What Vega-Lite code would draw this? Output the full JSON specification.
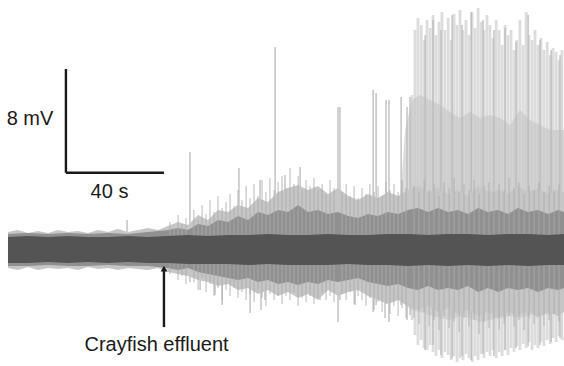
{
  "$schema": "https://vega.github.io/schema/vega-lite/v6.json",
  "width": 564,
  "height": 366,
  "autosize": {"type": "fit", "contains": "padding"},
  "padding": 0,
  "background": "white",
  "config": {"view": {"stroke": null}},
  "datasets": {
    "band": [
      {"t": 0, "hi": 1.02, "lo": -1.02}, {"t": 8.1, "hi": 1.10, "lo": -1.02}, {"t": 16.2, "hi": 1.02, "lo": -0.94},
      {"t": 24.2, "hi": 1.10, "lo": -1.02}, {"t": 32.3, "hi": 1.02, "lo": -0.94}, {"t": 40.4, "hi": 1.02, "lo": -1.02},
      {"t": 48.5, "hi": 1.10, "lo": -0.94}, {"t": 56.6, "hi": 1.02, "lo": -1.02}, {"t": 64.6, "hi": 1.10, "lo": -1.02},
      {"t": 72.7, "hi": 1.18, "lo": -1.10}, {"t": 80.8, "hi": 1.10, "lo": -1.10}, {"t": 88.9, "hi": 1.18, "lo": -1.10},
      {"t": 97.0, "hi": 1.18, "lo": -1.18}, {"t": 105.0, "hi": 1.25, "lo": -1.10}, {"t": 113.1, "hi": 1.18, "lo": -1.18},
      {"t": 121.2, "hi": 1.18, "lo": -1.18}, {"t": 129.3, "hi": 1.25, "lo": -1.18}, {"t": 137.4, "hi": 1.18, "lo": -1.10},
      {"t": 145.4, "hi": 1.18, "lo": -1.18}, {"t": 153.5, "hi": 1.25, "lo": -1.18}, {"t": 161.6, "hi": 1.25, "lo": -1.25},
      {"t": 169.7, "hi": 1.18, "lo": -1.18}, {"t": 177.8, "hi": 1.25, "lo": -1.25}, {"t": 185.8, "hi": 1.25, "lo": -1.18},
      {"t": 193.9, "hi": 1.18, "lo": -1.25}, {"t": 202.0, "hi": 1.25, "lo": -1.18}, {"t": 210.1, "hi": 1.25, "lo": -1.25},
      {"t": 218.2, "hi": 1.18, "lo": -1.18}, {"t": 224.6, "hi": 1.25, "lo": -1.18}
    ],
    "fuzzOuter": [
      {"t": 0, "hi": 1.41, "lo": -1.41}, {"t": 4.0, "hi": 1.57, "lo": -1.57}, {"t": 8.1, "hi": 1.33, "lo": -1.33},
      {"t": 12.1, "hi": 1.49, "lo": -1.57}, {"t": 16.2, "hi": 1.33, "lo": -1.41}, {"t": 20.2, "hi": 1.57, "lo": -1.49},
      {"t": 24.2, "hi": 1.41, "lo": -1.41}, {"t": 28.3, "hi": 1.49, "lo": -1.57}, {"t": 32.3, "hi": 1.33, "lo": -1.33},
      {"t": 36.4, "hi": 1.57, "lo": -1.49}, {"t": 40.4, "hi": 1.41, "lo": -1.41}, {"t": 44.4, "hi": 1.65, "lo": -1.57},
      {"t": 48.5, "hi": 1.41, "lo": -1.41}, {"t": 52.5, "hi": 1.57, "lo": -1.49}, {"t": 56.6, "hi": 1.72, "lo": -1.57},
      {"t": 60.6, "hi": 1.57, "lo": -1.41}, {"t": 64.6, "hi": 1.88, "lo": -1.72}, {"t": 68.7, "hi": 2.20, "lo": -1.88},
      {"t": 72.7, "hi": 1.96, "lo": -2.04}, {"t": 76.8, "hi": 2.74, "lo": -2.35}, {"t": 80.8, "hi": 2.35, "lo": -2.51},
      {"t": 84.8, "hi": 3.14, "lo": -2.82}, {"t": 88.9, "hi": 2.98, "lo": -2.67}, {"t": 92.9, "hi": 3.53, "lo": -3.14},
      {"t": 97.0, "hi": 3.29, "lo": -2.98}, {"t": 101.0, "hi": 4.08, "lo": -3.45}, {"t": 105.0, "hi": 3.76, "lo": -3.14},
      {"t": 109.1, "hi": 4.55, "lo": -3.61}, {"t": 113.1, "hi": 4.86, "lo": -3.29}, {"t": 117.2, "hi": 5.10, "lo": -3.76},
      {"t": 121.2, "hi": 4.70, "lo": -3.45}, {"t": 125.2, "hi": 5.02, "lo": -3.92}, {"t": 129.3, "hi": 4.39, "lo": -3.14},
      {"t": 133.3, "hi": 4.86, "lo": -3.61}, {"t": 137.4, "hi": 4.23, "lo": -3.29}, {"t": 141.4, "hi": 3.92, "lo": -3.14},
      {"t": 145.4, "hi": 4.39, "lo": -3.61}, {"t": 149.5, "hi": 4.08, "lo": -3.92}, {"t": 153.5, "hi": 4.55, "lo": -4.23},
      {"t": 157.6, "hi": 4.23, "lo": -3.92}, {"t": 161.6, "hi": 4.70, "lo": -4.39}, {"t": 165.6, "hi": 5.02, "lo": -4.70},
      {"t": 169.7, "hi": 4.55, "lo": -4.39}, {"t": 173.7, "hi": 4.86, "lo": -4.86}, {"t": 177.8, "hi": 4.39, "lo": -4.55},
      {"t": 181.8, "hi": 4.70, "lo": -5.02}, {"t": 185.8, "hi": 4.23, "lo": -4.70}, {"t": 189.9, "hi": 5.02, "lo": -5.17},
      {"t": 193.9, "hi": 4.55, "lo": -4.86}, {"t": 198.0, "hi": 4.70, "lo": -5.33}, {"t": 202.0, "hi": 4.39, "lo": -4.86},
      {"t": 206.0, "hi": 5.02, "lo": -5.17}, {"t": 210.1, "hi": 4.55, "lo": -4.70}, {"t": 214.1, "hi": 4.86, "lo": -5.33},
      {"t": 218.2, "hi": 4.39, "lo": -4.86}, {"t": 222.2, "hi": 4.70, "lo": -5.17}, {"t": 224.6, "hi": 4.55, "lo": -4.86}
    ],
    "fuzzInner": [
      {"t": 0, "hi": 1.25, "lo": -1.25}, {"t": 8.1, "hi": 1.33, "lo": -1.25}, {"t": 16.2, "hi": 1.25, "lo": -1.18},
      {"t": 24.2, "hi": 1.33, "lo": -1.25}, {"t": 32.3, "hi": 1.25, "lo": -1.25}, {"t": 40.4, "hi": 1.33, "lo": -1.18},
      {"t": 48.5, "hi": 1.25, "lo": -1.25}, {"t": 56.6, "hi": 1.41, "lo": -1.25}, {"t": 64.6, "hi": 1.57, "lo": -1.41},
      {"t": 68.7, "hi": 1.72, "lo": -1.57}, {"t": 72.7, "hi": 1.57, "lo": -1.41}, {"t": 76.8, "hi": 2.04, "lo": -1.72},
      {"t": 80.8, "hi": 1.88, "lo": -1.88}, {"t": 84.8, "hi": 2.35, "lo": -2.04}, {"t": 88.9, "hi": 2.20, "lo": -2.20},
      {"t": 92.9, "hi": 2.67, "lo": -2.35}, {"t": 97.0, "hi": 2.35, "lo": -2.20}, {"t": 101.0, "hi": 2.98, "lo": -2.51},
      {"t": 105.0, "hi": 2.74, "lo": -2.35}, {"t": 109.1, "hi": 3.14, "lo": -2.67}, {"t": 113.1, "hi": 2.98, "lo": -2.51},
      {"t": 117.2, "hi": 3.53, "lo": -2.74}, {"t": 121.2, "hi": 2.98, "lo": -2.51}, {"t": 125.2, "hi": 3.14, "lo": -2.67},
      {"t": 129.3, "hi": 2.82, "lo": -2.35}, {"t": 133.3, "hi": 2.98, "lo": -2.51}, {"t": 137.4, "hi": 2.67, "lo": -2.35},
      {"t": 141.4, "hi": 2.51, "lo": -2.20}, {"t": 145.4, "hi": 2.82, "lo": -2.51}, {"t": 149.5, "hi": 2.67, "lo": -2.67},
      {"t": 153.5, "hi": 2.98, "lo": -2.82}, {"t": 157.6, "hi": 2.82, "lo": -2.67}, {"t": 161.6, "hi": 3.14, "lo": -2.98},
      {"t": 165.6, "hi": 3.29, "lo": -3.14}, {"t": 169.7, "hi": 2.98, "lo": -2.82}, {"t": 173.7, "hi": 3.29, "lo": -3.14},
      {"t": 177.8, "hi": 2.98, "lo": -2.98}, {"t": 181.8, "hi": 3.14, "lo": -3.14}, {"t": 185.8, "hi": 2.82, "lo": -2.82},
      {"t": 189.9, "hi": 3.29, "lo": -3.29}, {"t": 193.9, "hi": 2.98, "lo": -2.98}, {"t": 198.0, "hi": 3.14, "lo": -3.29},
      {"t": 202.0, "hi": 2.82, "lo": -2.98}, {"t": 206.0, "hi": 3.29, "lo": -3.14}, {"t": 210.1, "hi": 2.98, "lo": -2.98},
      {"t": 214.1, "hi": 3.14, "lo": -3.29}, {"t": 218.2, "hi": 2.82, "lo": -2.98}, {"t": 222.2, "hi": 3.14, "lo": -3.14},
      {"t": 224.6, "hi": 2.98, "lo": -2.98}
    ],
    "midRight": [
      {"t": 158.4, "hi": 3.92, "lo": -3.92}, {"t": 160.4, "hi": 9.41, "lo": -4.31}, {"t": 163.2, "hi": 11.76, "lo": -4.70},
      {"t": 166.4, "hi": 12.15, "lo": -4.86}, {"t": 170.5, "hi": 11.76, "lo": -5.10}, {"t": 174.5, "hi": 11.37, "lo": -5.33},
      {"t": 178.6, "hi": 10.82, "lo": -5.49}, {"t": 182.6, "hi": 10.35, "lo": -5.17}, {"t": 186.6, "hi": 10.82, "lo": -5.33},
      {"t": 190.7, "hi": 10.35, "lo": -5.64}, {"t": 194.7, "hi": 10.58, "lo": -5.49}, {"t": 198.8, "hi": 10.35, "lo": -5.33},
      {"t": 202.8, "hi": 9.80, "lo": -5.17}, {"t": 206.8, "hi": 10.98, "lo": -5.33}, {"t": 210.9, "hi": 10.19, "lo": -5.10},
      {"t": 214.9, "hi": 9.80, "lo": -4.86}, {"t": 219.0, "hi": 9.41, "lo": -5.10}, {"t": 224.6, "hi": 9.41, "lo": -4.70}
    ],
    "dense": [
      {"t": 163.2, "hi": 12.15, "lo": -5.49}, {"t": 164.4, "hi": 17.25, "lo": -6.66}, {"t": 165.6, "hi": 18.19, "lo": -7.45},
      {"t": 166.9, "hi": 17.64, "lo": -7.06}, {"t": 168.1, "hi": 16.46, "lo": -7.68}, {"t": 169.3, "hi": 18.03, "lo": -7.84},
      {"t": 170.5, "hi": 17.40, "lo": -7.45}, {"t": 171.7, "hi": 18.42, "lo": -8.00}, {"t": 172.9, "hi": 16.86, "lo": -8.31},
      {"t": 174.1, "hi": 17.88, "lo": -7.84}, {"t": 175.3, "hi": 18.66, "lo": -8.47}, {"t": 176.5, "hi": 17.25, "lo": -8.00},
      {"t": 177.8, "hi": 18.19, "lo": -8.23}, {"t": 179.0, "hi": 16.46, "lo": -8.62}, {"t": 180.2, "hi": 18.50, "lo": -8.31},
      {"t": 181.4, "hi": 17.64, "lo": -8.78}, {"t": 182.6, "hi": 18.82, "lo": -8.47}, {"t": 183.8, "hi": 17.25, "lo": -8.62},
      {"t": 185.0, "hi": 18.03, "lo": -8.15}, {"t": 186.2, "hi": 16.86, "lo": -8.47}, {"t": 187.5, "hi": 18.66, "lo": -8.78},
      {"t": 188.7, "hi": 17.40, "lo": -8.31}, {"t": 189.9, "hi": 18.97, "lo": -8.62}, {"t": 191.1, "hi": 17.88, "lo": -8.15},
      {"t": 192.3, "hi": 17.25, "lo": -8.47}, {"t": 193.5, "hi": 18.42, "lo": -8.00}, {"t": 194.7, "hi": 17.64, "lo": -8.31},
      {"t": 195.9, "hi": 16.62, "lo": -7.84}, {"t": 197.2, "hi": 18.03, "lo": -8.47}, {"t": 198.4, "hi": 17.25, "lo": -8.00},
      {"t": 199.6, "hi": 16.07, "lo": -8.31}, {"t": 200.8, "hi": 17.64, "lo": -7.84}, {"t": 202.0, "hi": 16.86, "lo": -8.23},
      {"t": 203.2, "hi": 17.25, "lo": -7.68}, {"t": 204.4, "hi": 15.68, "lo": -8.00}, {"t": 205.6, "hi": 16.46, "lo": -7.53},
      {"t": 206.8, "hi": 18.03, "lo": -7.84}, {"t": 208.1, "hi": 16.07, "lo": -7.37}, {"t": 209.3, "hi": 18.66, "lo": -7.68},
      {"t": 210.5, "hi": 16.86, "lo": -7.21}, {"t": 211.7, "hi": 16.46, "lo": -7.84}, {"t": 212.9, "hi": 17.25, "lo": -7.45},
      {"t": 214.1, "hi": 16.07, "lo": -7.68}, {"t": 215.3, "hi": 16.62, "lo": -7.21}, {"t": 216.5, "hi": 15.68, "lo": -7.53},
      {"t": 217.8, "hi": 16.31, "lo": -7.06}, {"t": 219.0, "hi": 15.29, "lo": -7.37}, {"t": 220.2, "hi": 15.84, "lo": -6.90},
      {"t": 221.4, "hi": 15.52, "lo": -7.21}, {"t": 222.6, "hi": 14.90, "lo": -6.74}, {"t": 223.8, "hi": 15.68, "lo": -7.06}
    ],
    "spikes": [
      {"t": 48.1, "hi": 2.35, "lo": -0.94}, {"t": 73.5, "hi": 7.68, "lo": -2.51}, {"t": 77.6, "hi": 1.96, "lo": -3.14},
      {"t": 83.6, "hi": 2.35, "lo": -3.53}, {"t": 86.5, "hi": 1.10, "lo": -4.31}, {"t": 93.3, "hi": 6.43, "lo": -1.57},
      {"t": 97.8, "hi": 3.14, "lo": -4.94}, {"t": 101.8, "hi": 5.49, "lo": -2.20}, {"t": 102.2, "hi": 1.57, "lo": -4.70},
      {"t": 103.8, "hi": 2.74, "lo": -3.92}, {"t": 107.9, "hi": 15.92, "lo": -3.37}, {"t": 109.9, "hi": 3.92, "lo": -2.74},
      {"t": 111.9, "hi": 5.88, "lo": -2.20}, {"t": 118.0, "hi": 6.51, "lo": -0.78}, {"t": 126.0, "hi": 3.14, "lo": -3.92},
      {"t": 133.3, "hi": 11.21, "lo": -5.64}, {"t": 134.1, "hi": 11.21, "lo": -3.92}, {"t": 136.1, "hi": 3.53, "lo": -3.14},
      {"t": 140.2, "hi": 2.74, "lo": -4.31}, {"t": 147.5, "hi": 12.54, "lo": -4.86}, {"t": 148.7, "hi": 12.31, "lo": -4.31},
      {"t": 152.3, "hi": 3.92, "lo": -5.33}, {"t": 152.7, "hi": 11.76, "lo": -3.92}, {"t": 153.9, "hi": 11.76, "lo": -5.64},
      {"t": 158.8, "hi": 12.00, "lo": -4.31}, {"t": 161.2, "hi": 11.21, "lo": -5.49}, {"t": 162.4, "hi": 12.00, "lo": -5.10},
      {"t": 168.5, "hi": 16.86, "lo": -7.84}, {"t": 171.7, "hi": 18.03, "lo": -7.45}, {"t": 174.9, "hi": 17.25, "lo": -8.23},
      {"t": 179.4, "hi": 18.42, "lo": -8.47}, {"t": 183.4, "hi": 17.64, "lo": -8.31}, {"t": 187.1, "hi": 18.66, "lo": -8.62},
      {"t": 191.9, "hi": 18.03, "lo": -8.15}, {"t": 196.3, "hi": 17.25, "lo": -8.31}, {"t": 200.8, "hi": 17.40, "lo": -7.84},
      {"t": 205.2, "hi": 16.31, "lo": -7.68}, {"t": 210.1, "hi": 18.42, "lo": -7.53}, {"t": 214.9, "hi": 16.46, "lo": -7.45},
      {"t": 219.4, "hi": 15.68, "lo": -7.21}, {"t": 223.0, "hi": 15.29, "lo": -6.90}
    ],
    "fine": [
      {"t": 65.4, "hi": 2.20, "lo": -1.88}, {"t": 67.1, "hi": 1.72, "lo": -1.57}, {"t": 68.7, "hi": 2.74, "lo": -2.35},
      {"t": 70.3, "hi": 2.04, "lo": -2.04}, {"t": 71.9, "hi": 2.51, "lo": -2.67}, {"t": 75.1, "hi": 3.14, "lo": -2.51},
      {"t": 76.8, "hi": 2.35, "lo": -3.14}, {"t": 78.4, "hi": 3.53, "lo": -2.20}, {"t": 80.0, "hi": 2.82, "lo": -3.29},
      {"t": 81.6, "hi": 3.92, "lo": -2.67}, {"t": 83.2, "hi": 2.98, "lo": -3.61}, {"t": 84.8, "hi": 4.23, "lo": -2.98},
      {"t": 86.5, "hi": 3.29, "lo": -3.92}, {"t": 88.1, "hi": 3.76, "lo": -3.14}, {"t": 89.7, "hi": 4.39, "lo": -3.61},
      {"t": 91.3, "hi": 3.45, "lo": -2.98}, {"t": 92.9, "hi": 4.70, "lo": -3.76}, {"t": 94.5, "hi": 3.92, "lo": -3.29},
      {"t": 96.2, "hi": 5.02, "lo": -3.92}, {"t": 97.8, "hi": 4.08, "lo": -3.45}, {"t": 99.4, "hi": 5.17, "lo": -4.08},
      {"t": 101.0, "hi": 4.23, "lo": -3.14}, {"t": 102.6, "hi": 5.49, "lo": -3.76}, {"t": 104.2, "hi": 4.55, "lo": -4.39},
      {"t": 105.8, "hi": 5.64, "lo": -3.45}, {"t": 107.5, "hi": 4.70, "lo": -3.92}, {"t": 109.1, "hi": 5.33, "lo": -3.61},
      {"t": 110.7, "hi": 5.80, "lo": -4.23}, {"t": 112.3, "hi": 4.86, "lo": -3.61}, {"t": 113.9, "hi": 6.43, "lo": -3.92},
      {"t": 115.5, "hi": 5.17, "lo": -3.29}, {"t": 117.2, "hi": 5.80, "lo": -4.39}, {"t": 118.8, "hi": 4.70, "lo": -3.76},
      {"t": 120.4, "hi": 5.49, "lo": -4.08}, {"t": 122.0, "hi": 5.02, "lo": -3.61}, {"t": 123.6, "hi": 5.64, "lo": -4.23},
      {"t": 125.2, "hi": 4.70, "lo": -3.76}, {"t": 126.9, "hi": 5.17, "lo": -3.29}, {"t": 128.5, "hi": 4.39, "lo": -3.92},
      {"t": 130.1, "hi": 5.49, "lo": -3.61}, {"t": 131.7, "hi": 4.86, "lo": -4.08}, {"t": 134.9, "hi": 4.55, "lo": -3.45},
      {"t": 136.6, "hi": 5.17, "lo": -3.92}, {"t": 138.2, "hi": 4.23, "lo": -3.29}, {"t": 139.8, "hi": 5.02, "lo": -4.23},
      {"t": 141.4, "hi": 4.08, "lo": -3.61}, {"t": 143.0, "hi": 4.86, "lo": -3.92}, {"t": 144.6, "hi": 4.39, "lo": -4.39},
      {"t": 146.2, "hi": 5.17, "lo": -3.76}, {"t": 147.9, "hi": 4.55, "lo": -4.70}, {"t": 149.5, "hi": 5.02, "lo": -4.08},
      {"t": 151.1, "hi": 4.23, "lo": -4.86}, {"t": 152.7, "hi": 5.33, "lo": -4.23}, {"t": 154.3, "hi": 4.70, "lo": -5.02},
      {"t": 155.9, "hi": 5.17, "lo": -4.39}, {"t": 157.6, "hi": 4.55, "lo": -5.17}, {"t": 159.2, "hi": 5.49, "lo": -4.55},
      {"t": 160.8, "hi": 4.86, "lo": -5.33},
      {"t": 164.0, "hi": 5.02, "lo": -5.33}, {"t": 166.0, "hi": 4.55, "lo": -5.80}, {"t": 168.1, "hi": 5.49, "lo": -4.86},
      {"t": 170.1, "hi": 4.70, "lo": -5.96}, {"t": 172.1, "hi": 5.17, "lo": -5.49}, {"t": 174.1, "hi": 4.23, "lo": -6.27},
      {"t": 176.1, "hi": 5.33, "lo": -5.17}, {"t": 178.2, "hi": 4.86, "lo": -6.12}, {"t": 180.2, "hi": 5.64, "lo": -5.64},
      {"t": 182.2, "hi": 4.55, "lo": -6.43}, {"t": 184.2, "hi": 5.17, "lo": -5.33}, {"t": 186.2, "hi": 4.70, "lo": -5.96},
      {"t": 188.3, "hi": 5.49, "lo": -5.49}, {"t": 190.3, "hi": 4.39, "lo": -6.59}, {"t": 192.3, "hi": 5.02, "lo": -5.64},
      {"t": 194.3, "hi": 5.33, "lo": -6.12}, {"t": 196.3, "hi": 4.55, "lo": -5.33}, {"t": 198.4, "hi": 5.17, "lo": -6.27},
      {"t": 200.4, "hi": 4.70, "lo": -5.80}, {"t": 202.4, "hi": 5.64, "lo": -5.17}, {"t": 204.4, "hi": 4.86, "lo": -5.96},
      {"t": 206.4, "hi": 5.33, "lo": -5.49}, {"t": 208.5, "hi": 4.39, "lo": -6.27}, {"t": 210.5, "hi": 5.02, "lo": -5.33},
      {"t": 212.5, "hi": 4.70, "lo": -5.80}, {"t": 214.5, "hi": 5.33, "lo": -5.17}, {"t": 216.5, "hi": 4.55, "lo": -5.96},
      {"t": 218.6, "hi": 5.02, "lo": -5.49}, {"t": 220.6, "hi": 4.70, "lo": -5.02}, {"t": 222.6, "hi": 5.17, "lo": -5.64}
    ],
    "stripes": [
      {"t": 5.5}, {"t": 11.6}, {"t": 17.6}, {"t": 23.7}, {"t": 29.7}, {"t": 35.8}, {"t": 41.9}, {"t": 47.9},
      {"t": 54.0}, {"t": 60.0}, {"t": 66.1}, {"t": 72.2}, {"t": 78.2}, {"t": 84.3}, {"t": 90.3}, {"t": 96.4},
      {"t": 102.5}, {"t": 108.5}, {"t": 114.6}, {"t": 120.6}, {"t": 126.7}, {"t": 132.8}, {"t": 138.8}, {"t": 144.9},
      {"t": 150.9}, {"t": 157.0}, {"t": 163.1}, {"t": 169.1}, {"t": 175.2}, {"t": 181.2}, {"t": 187.3}, {"t": 193.4},
      {"t": 199.4}, {"t": 205.5}, {"t": 211.5}, {"t": 217.6}, {"t": 223.7}
    ],
    "bars": [
      {"t": 23.4, "t2": 23.4, "hi": 14.19, "lo": 6.06},
      {"t": 23.4, "t2": 63.0, "hi": 6.06, "lo": 6.06},
      {"t": 63.0, "t2": 63.0, "hi": -1.6, "lo": -6.04}
    ],
    "arrowhead": [{"t": 63.0, "hi": -1.45}],
    "labels": [
      {"t": 8.9, "hi": 9.8, "label": "8 mV"},
      {"t": 41.0, "hi": 4.08, "label": "40 s"},
      {"t": 60.0, "hi": -7.92, "label": "Crayfish effluent"}
    ]
  },
  "encoding": {
    "x": {"field": "t", "type": "quantitative", "scale": {"domain": [-3.23, 224.6], "nice": false, "zero": false}, "axis": null},
    "y": {"field": "hi", "type": "quantitative", "scale": {"domain": [-9.09, 19.6], "nice": false, "zero": false}, "axis": null}
  },
  "layer": [
    {
      "data": {"name": "dense"},
      "mark": {"type": "rule", "color": "#dcdcdc", "strokeWidth": 2.8},
      "encoding": {"y2": {"field": "lo"}}
    },
    {
      "data": {"name": "midRight"},
      "mark": {"type": "area", "color": "#c4c4c4", "opacity": 0.6},
      "encoding": {"y2": {"field": "lo"}}
    },
    {
      "data": {"name": "spikes"},
      "mark": {"type": "rule", "color": "#bababa", "strokeWidth": 1.3},
      "encoding": {"y2": {"field": "lo"}}
    },
    {
      "data": {"name": "fuzzOuter"},
      "mark": {"type": "area", "color": "#c6c6c6"},
      "encoding": {"y2": {"field": "lo"}}
    },
    {
      "data": {"name": "fuzzInner"},
      "mark": {"type": "area", "color": "#909090"},
      "encoding": {"y2": {"field": "lo"}}
    },
    {
      "data": {"name": "fine"},
      "mark": {"type": "rule", "color": "#ababab", "strokeWidth": 1.2, "opacity": 0.7},
      "encoding": {"y2": {"field": "lo"}}
    },
    {
      "data": {"name": "band"},
      "mark": {"type": "area", "color": "#545454"},
      "encoding": {"y2": {"field": "lo"}}
    },
    {
      "data": {"name": "stripes"},
      "mark": {"type": "rule", "color": "#3e3e3e", "strokeWidth": 1.2, "opacity": 0.8},
      "encoding": {"y": {"datum": 1.0}, "y2": {"datum": -1.0}}
    },
    {
      "data": {"name": "bars"},
      "mark": {"type": "rule", "color": "#1a1a1a", "strokeWidth": 2.4},
      "encoding": {"x2": {"field": "t2"}, "y2": {"field": "lo"}}
    },
    {
      "data": {"name": "arrowhead"},
      "mark": {"type": "point", "shape": "triangle-up", "filled": true, "color": "#1a1a1a", "size": 45, "opacity": 1}
    },
    {
      "data": {"name": "labels"},
      "mark": {"type": "text", "font": "Liberation Sans", "fontSize": 20, "color": "#1a1a1a", "align": "center", "baseline": "alphabetic"},
      "encoding": {"text": {"field": "label"}}
    }
  ]
}
